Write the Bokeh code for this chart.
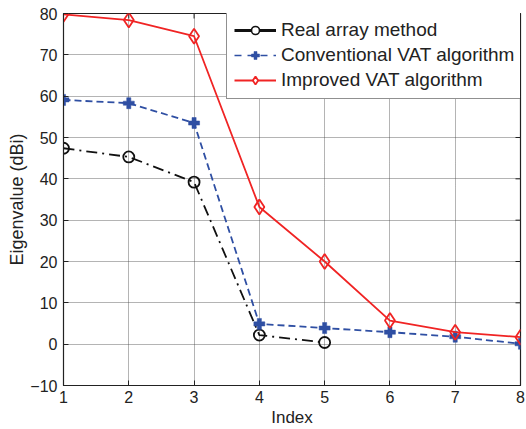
import math
from bokeh.plotting import figure
from bokeh.models import Legend, LegendItem, Range1d, FixedTicker
from bokeh.embed import file_html
from bokeh.resources import INLINE

index = [1, 2, 3, 4, 5, 6, 7, 8]
real_x = [1, 2, 3, 4, 5]
real_array = [47.4, 45.3, 39.2, 2.2, 0.4]
conventional_vat = [59.1, 58.3, 53.5, 4.9, 3.9, 2.9, 1.8, 0.1]
improved_vat = [79.8, 78.4, 74.5, 33.2, 20.0, 5.7, 2.9, 1.7]
y_ticks = [-10, 0, 10, 20, 30, 40, 50, 60, 70, 80]
x_min, x_max, y_min, y_max = 1, 8, -10, 80

FONT = "Liberation Sans"
BLACK = "#111111"
BLUE = "#2f4fa3"
RED = "#f02424"
AXC = "#222222"

p = figure(width=526, height=429, output_backend="svg", toolbar_location=None,
           x_range=Range1d(x_min, x_max), y_range=Range1d(y_min, y_max),
           min_border_left=63, min_border_right=6, min_border_top=13, min_border_bottom=43)
p.outline_line_color = AXC
p.outline_line_width = 1.2
p.background_fill_color = "white"
p.border_fill_color = "white"

for ax in [p.xaxis[0], p.yaxis[0]]:
    ax.major_label_text_font = FONT
    ax.major_label_text_color = AXC
    ax.axis_label_text_font = FONT
    ax.axis_label_text_font_style = "normal"
    ax.axis_label_text_color = AXC
    ax.major_tick_in = 5
    ax.major_tick_out = 0
    ax.minor_tick_in = 0
    ax.minor_tick_out = 0
    ax.axis_line_color = AXC
    ax.major_tick_line_color = AXC

p.xaxis[0].ticker = FixedTicker(ticks=index)
p.yaxis[0].ticker = FixedTicker(ticks=y_ticks)
p.xaxis[0].axis_label = "Index"
p.xaxis[0].major_label_text_font_size = "16px"
p.xaxis[0].axis_label_text_font_size = "17px"
p.xaxis[0].axis_label_standoff = 2
p.xaxis[0].major_label_standoff = 5
p.yaxis[0].axis_label = "Eigenvalue (dBi)"
p.yaxis[0].major_label_text_font_size = "16px"
p.yaxis[0].axis_label_text_font_size = "18px"
p.yaxis[0].axis_label_standoff = 0
p.yaxis[0].major_label_standoff = 6

p.xgrid.ticker = FixedTicker(ticks=index)
p.ygrid.ticker = FixedTicker(ticks=y_ticks)
for g in [p.xgrid[0], p.ygrid[0]]:
    g.grid_line_color = "#444444"
    g.grid_line_dash = "1 1"
    g.grid_line_width = 1
    g.grid_line_alpha = 0.8

# inward ticks on the right and top edges of the box (half of each dash is clipped)
p.scatter([x_max] * len(y_ticks), y_ticks, marker="dash", size=10, line_color=AXC, line_width=1)
p.scatter(index, [y_max] * len(index), marker="dash", angle=math.pi / 2, size=10,
          line_color=AXC, line_width=1)

nan = [float("nan")]

# Real array method
p.line(real_x, real_array, line_color=BLACK, line_width=1.8, line_dash="11 5 2 5")
p.scatter(real_x, real_array, marker="circle", size=11, fill_color=None,
          line_color=BLACK, line_width=1.8)
leg1l = p.line(nan, nan, line_color=BLACK, line_width=2.8)
leg1m = p.scatter(nan, nan, marker="circle", size=9, fill_color="white",
                  line_color=BLACK, line_width=1.6)

# Conventional VAT
p.line(index, conventional_vat, line_color=BLUE, line_width=1.8, line_dash="7 4")
p.scatter(index, conventional_vat, marker="plus", size=11, fill_color=BLUE,
          line_color=BLUE, line_width=0.5)
leg2l = p.line(nan, nan, line_color=BLUE, line_width=1.6, line_dash="7 6")
leg2m = p.scatter(nan, nan, marker="plus", size=9, fill_color=BLUE, line_color=BLUE, line_width=0.5)

# Improved VAT
p.line(index, improved_vat, line_color=RED, line_width=1.8)
p.scatter(index, improved_vat, marker="diamond", size=15, fill_color=None,
          line_color=RED, line_width=1.8)
leg3l = p.line(nan, nan, line_color=RED, line_width=1.8)
leg3m = p.scatter(nan, nan, marker="diamond", size=13, fill_color="white",
                  line_color=RED, line_width=1.8)

legend = Legend(items=[
    LegendItem(label="Real array method", renderers=[leg1l, leg1m]),
    LegendItem(label="Conventional VAT algorithm", renderers=[leg2l, leg2m]),
    LegendItem(label="Improved VAT algorithm", renderers=[leg3l, leg3m]),
], location=(163, 286))
legend.label_text_font = FONT
legend.label_text_font_size = "19px"
legend.label_text_color = AXC
legend.glyph_width = 42
legend.glyph_height = 20
legend.label_height = 20
legend.spacing = 3
legend.padding = 7
legend.margin = 0
legend.label_standoff = 5
legend.border_line_color = AXC
legend.border_line_width = 1.2
legend.background_fill_alpha = 1
p.add_layout(legend, "center")

open("out.html", "w").write(file_html(p, INLINE))
